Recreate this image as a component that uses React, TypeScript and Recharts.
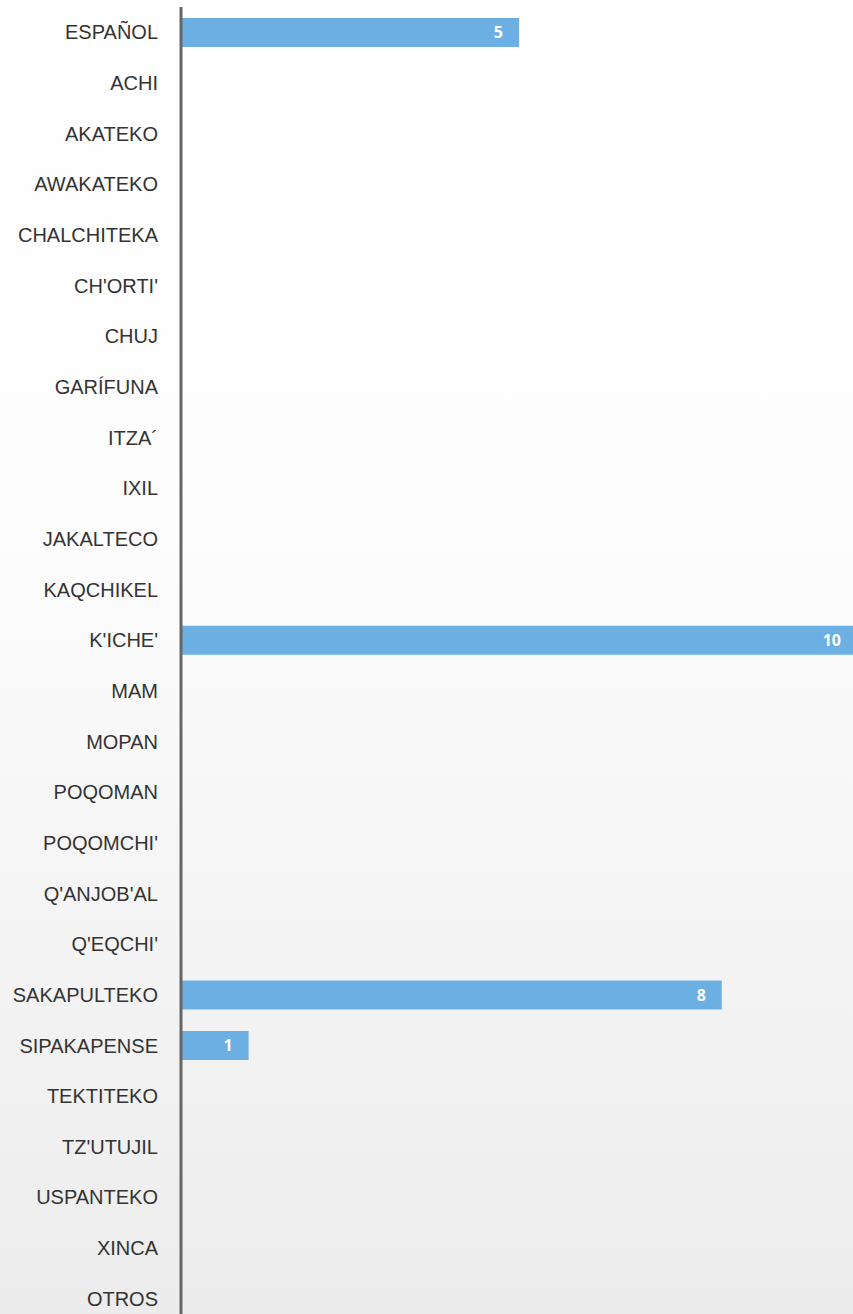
import { BarChart, Bar, XAxis, YAxis, LabelList } from 'recharts';

const languages = [
  'ESPAÑOL', 'ACHI', 'AKATEKO', 'AWAKATEKO', 'CHALCHITEKA', "CH'ORTI'", 'CHUJ', 'GARÍFUNA',
  'ITZA´', 'IXIL', 'JAKALTECO', 'KAQCHIKEL', "K'ICHE'", 'MAM', 'MOPAN', 'POQOMAN',
  "POQOMCHI'", "Q'ANJOB'AL", "Q'EQCHI'", 'SAKAPULTEKO', 'SIPAKAPENSE', 'TEKTITEKO',
  "TZ'UTUJIL", 'USPANTEKO', 'XINCA', 'OTROS',
];
const counts = [5, 0, 0, 0, 0, 0, 0, 0, 0, 0, 0, 0, 10, 0, 0, 0, 0, 0, 0, 8, 1, 0, 0, 0, 0, 0];

const data = languages.map((name, i) => ({ name, value: counts[i] }));

const BAR_COLOR = '#6cb0e3';

// white value labels just inside the bar end; zero bars get theirs just right of the axis
function ValueLabel(props: any) {
  const { x, y, width, height, value } = props;
  const v = Number(value);
  const endX = v > 0 ? Number(x) + Number(width) - 16 : Number(x) + 29;
  return (
    <text
      x={endX}
      y={Number(y) + Number(height) / 2}
      dy="0.36em"
      textAnchor="end"
      fill="#ffffff"
      fontSize={16}
      fontWeight="bold"
      fontFamily="'Noto Sans', sans-serif"
    >
      {v}
    </text>
  );
}

export default function App() {
  return (
    <div
      style={{
        position: 'absolute',
        left: 0,
        top: 0,
        width: 853,
        height: 1314,
        overflow: 'hidden',
        background: 'linear-gradient(to bottom, #ffffff 0%, #fdfdfd 40%, #ececec 100%)',
      }}
    >
      <BarChart
        width={870}
        height={1330}
        data={data}
        layout="vertical"
        margin={{ top: 7, right: 13, bottom: 6, left: 0 }}
        barCategoryGap={0}
      >
        <XAxis type="number" domain={[0, 10]} hide />
        <YAxis
          type="category"
          dataKey="name"
          width={181}
          interval={0}
          tickLine={false}
          tickSize={0}
          tickMargin={23}
          axisLine={{ stroke: '#666666', strokeWidth: 3 }}
          tick={{ fontSize: 20, fill: '#333333', fontFamily: "'Liberation Sans', Arial, sans-serif" }}
        />
        <Bar dataKey="value" fill={BAR_COLOR} barSize={29} isAnimationActive={false}>
          <LabelList dataKey="value" content={ValueLabel} />
        </Bar>
      </BarChart>
    </div>
  );
}
